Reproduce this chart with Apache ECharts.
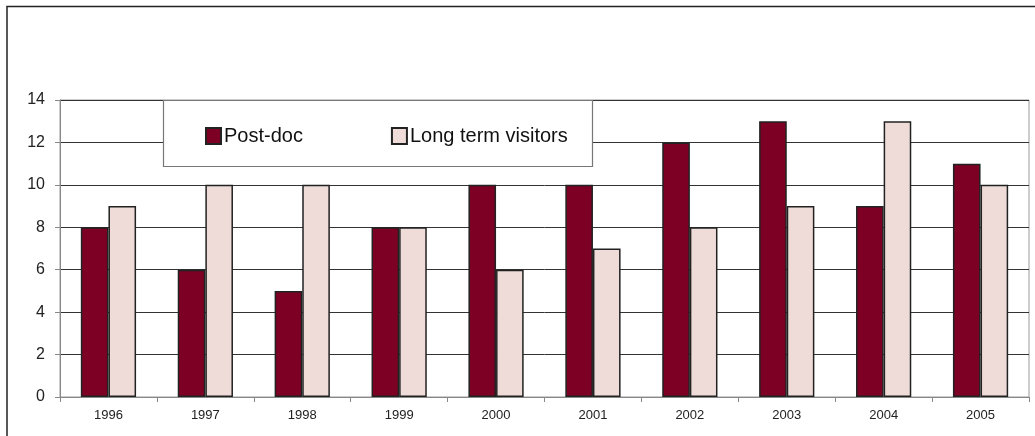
<!DOCTYPE html>
<html>
<head>
<meta charset="utf-8">
<script src="https://cdn.jsdelivr.net/npm/echarts@6/dist/echarts.min.js"></script>
<style>
  html, body { margin: 0; padding: 0; background: #fff; }
  #chart { width: 1035px; height: 436px; }
</style>
</head>
<body>
<div id="chart"></div>
<script>
// Yearly counts of post-docs and long term visitors
const years = ['1996', '1997', '1998', '1999', '2000', '2001', '2002', '2003', '2004', '2005'];
const postDoc = [8, 6, 5, 8, 10, 10, 12, 13, 9, 11];
const longTermVisitors = [9, 10, 10, 8, 6, 7, 8, 9, 13, 10];
const yTicks = [0, 2, 4, 6, 8, 10, 12, 14];

const chart = echarts.init(document.getElementById('chart'));
const font = 'Liberation Sans, Arial, sans-serif';

chart.setOption({
  animation: false,
  textStyle: { fontFamily: font },
  grid: { left: 60, right: 6, top: 100, bottom: 39, show: true, borderColor: '#999', borderWidth: 1 },
  graphic: [
    // outer frame (top and left edges)
    { type: 'polyline', z: 1, shape: { points: [[7, 436], [7, 6.5], [1035, 6.5]] },
      style: { stroke: '#222', lineWidth: 1.5, fill: null } },
    // legend box
    { type: 'rect', z: 3, shape: { x: 163.5, y: 100.5, width: 429, height: 66 },
      style: { fill: '#fff', stroke: '#777', lineWidth: 1.2 } }
  ],
  legend: {
    z: 5,
    left: 200, top: 121,
    itemWidth: 15, itemHeight: 16, itemGap: 88,
    icon: 'rect',
    textStyle: { fontSize: 20, color: '#111', fontFamily: font, padding: [0, 0, 0, -2] },
    data: ['Post-doc', 'Long term visitors']
  },
  xAxis: {
    type: 'category',
    data: years,
    axisLine: { lineStyle: { color: '#888', width: 1 } },
    axisTick: { show: true, length: 5, lineStyle: { color: '#888' } },
    axisLabel: { fontSize: 13, color: '#222', margin: 12 },
    splitLine: { show: false }
  },
  yAxis: {
    type: 'value',
    min: 0, max: 14, interval: 2,
    axisLine: { show: true, lineStyle: { color: '#888', width: 1 } },
    axisTick: { show: true, length: 5, lineStyle: { color: '#888' } },
    axisLabel: {
      fontSize: 16, color: '#222', margin: 15,
      formatter: v => yTicks.includes(v) ? String(v) : ''
    },
    splitLine: { show: true, lineStyle: { color: '#333', width: 1 } }
  },
  series: [
    {
      name: 'Post-doc', type: 'bar', data: postDoc,
      barGap: '0%', barCategoryGap: '43%',
      itemStyle: { color: '#7d0024', borderColor: '#222', borderWidth: 1.5 }
    },
    {
      name: 'Long term visitors', type: 'bar', data: longTermVisitors,
      barGap: '0%', barCategoryGap: '43%',
      itemStyle: { color: '#efdcd8', borderColor: '#222', borderWidth: 1.5 }
    }
  ]
});
</script>
</body>
</html>
